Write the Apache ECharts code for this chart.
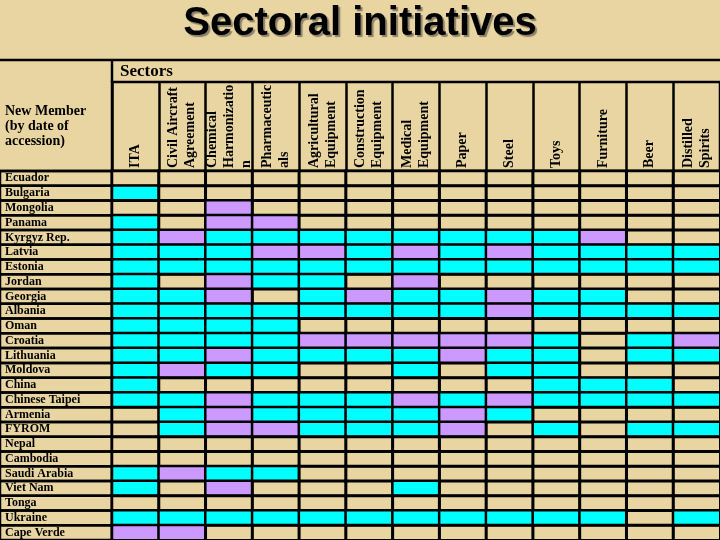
<!DOCTYPE html>
<html>
<head>
<meta charset="utf-8">
<script src="https://cdn.jsdelivr.net/npm/echarts@6/dist/echarts.min.js"></script>
<style>html,body{margin:0;padding:0;background:#e8d5a2;}#chart{width:720px;height:540px;}</style>
</head>
<body>
<div id="chart"></div>
<script>
// Sector column headers (left to right)
const sectors = ['ITA', 'Civil Aircraft\nAgreement', 'Chemical\nHarmonizatio\nn', 'Pharmaceutic\nals',
  'Agricultural\nEquipment', 'Construction\nEquipment', 'Medical\nEquipment', 'Paper', 'Steel',
  'Toys', 'Furniture', 'Beer', 'Distilled\nSpirits'];

// New members by date of accession (top to bottom)
const members = ['Ecuador', 'Bulgaria', 'Mongolia', 'Panama', 'Kyrgyz Rep.', 'Latvia', 'Estonia',
  'Jordan', 'Georgia', 'Albania', 'Oman', 'Croatia', 'Lithuania', 'Moldova', 'China',
  'Chinese Taipei', 'Armenia', 'FYROM', 'Nepal', 'Cambodia', 'Saudi Arabia', 'Viet Nam',
  'Tonga', 'Ukraine', 'Cape Verde'];

// Participation per sector, one value per member: 0 = none, 1 = cyan, 2 = purple
const ita           = [0,1,0,1,1,1,1,1,1,1,1,1,1,1,1,1,0,0,0,0,1,1,0,1,2];
const civilAircraft = [0,0,0,0,2,1,1,0,1,1,1,1,1,2,0,1,1,1,0,0,2,0,0,1,2];
const chemical      = [0,0,2,2,1,1,1,2,2,1,1,1,2,1,0,2,2,2,0,0,1,2,0,1,0];
const pharma        = [0,0,0,2,1,2,1,1,0,1,1,1,1,1,0,1,1,2,0,0,1,0,0,1,0];
const agricultural  = [0,0,0,0,1,2,1,1,1,1,0,2,1,0,0,1,1,1,0,0,0,0,0,1,0];
const construction  = [0,0,0,0,1,1,1,0,2,1,0,2,1,0,0,1,1,1,0,0,0,0,0,1,0];
const medical       = [0,0,0,0,1,2,1,2,1,1,0,2,1,1,0,2,1,1,0,0,0,1,0,1,0];
const paper         = [0,0,0,0,1,1,1,0,1,1,0,2,2,0,0,1,2,2,0,0,0,0,0,1,0];
const steel         = [0,0,0,0,1,2,1,0,2,2,0,2,1,1,0,2,1,0,0,0,0,0,0,1,0];
const toys          = [0,0,0,0,1,1,1,0,1,1,0,1,1,1,1,1,0,1,0,0,0,0,0,1,0];
const furniture     = [0,0,0,0,2,1,1,0,1,1,0,0,0,0,1,1,0,0,0,0,0,0,0,1,0];
const beer          = [0,0,0,0,0,1,1,0,0,1,0,1,1,0,1,1,0,1,0,0,0,0,0,0,0];
const spirits       = [0,0,0,0,0,1,1,0,0,1,0,2,1,0,0,1,0,1,0,0,0,0,0,1,0];

const columns = [ita, civilAircraft, chemical, pharma, agricultural, construction, medical,
  paper, steel, toys, furniture, beer, spirits];

const cells = [];
columns.forEach((col, j) => col.forEach((v, i) => cells.push([j, i, v])));

const serif = 'Liberation Serif';
const chart = echarts.init(document.getElementById('chart'), null, {renderer: 'canvas'});
chart.setOption({
  backgroundColor: '#e8d5a2',
  animation: false,
  title: [
    {text: 'Sectoral initiatives', left: 'center', top: 4, padding: 0,
      textStyle: {fontFamily: 'Liberation Sans', fontWeight: 'bold', fontSize: 40, color: '#000',
        lineHeight: 40, textShadowColor: '#8a806a', textShadowOffsetX: 2, textShadowOffsetY: 2, textShadowBlur: 1}},
    {text: 'Sectors', left: 120, top: 63, padding: 0,
      textStyle: {fontFamily: serif, fontWeight: 'bold', fontSize: 17, lineHeight: 17, color: '#000'}},
    {text: 'New Member\n(by date of\naccession)', left: 5, top: 104, padding: 0,
      textStyle: {fontFamily: serif, fontWeight: 'bold', fontSize: 14, lineHeight: 15, color: '#000'}}
  ],
  grid: [
    {left: 112, right: 0, top: 171, height: 373},
    {left: 112, right: 0, top: 82, height: 89, show: true, borderColor: '#000', borderWidth: 2.5, backgroundColor: 'transparent'}
  ],
  xAxis: [
    {gridIndex: 0, type: 'category', data: sectors, position: 'top',
      axisLine: {show: false}, axisTick: {show: false}, splitLine: {show: false},
      axisLabel: {interval: 0, rotate: -90, margin: 3, fontFamily: serif, fontWeight: 'bold',
        fontSize: 14, lineHeight: 17, color: '#000'}},
    {gridIndex: 1, type: 'category', data: sectors,
      axisLine: {show: false}, axisTick: {show: false}, axisLabel: {show: false},
      splitLine: {show: true, interval: 0, lineStyle: {color: '#000', width: 2.5}}}
  ],
  yAxis: [
    {gridIndex: 0, type: 'category', data: members, inverse: true,
      axisLine: {show: false}, axisTick: {show: false},
      axisLabel: {interval: 0, align: 'left', margin: 107, fontFamily: serif, fontWeight: 'bold',
        fontSize: 12, color: '#000'}},
    {gridIndex: 1, type: 'value', show: false}
  ],
  visualMap: {
    type: 'piecewise', show: false, seriesIndex: 0, dimension: 2,
    pieces: [
      {value: 0, color: 'rgba(0,0,0,0)'},
      {value: 1, color: '#00ffff'},
      {value: 2, color: '#cc99ff'}
    ]
  },
  graphic: [
    {type: 'line', shape: {x1: 0, y1: 60, x2: 720, y2: 60}, style: {stroke: '#000', lineWidth: 2.5}},
    {type: 'line', shape: {x1: 112, y1: 60, x2: 112, y2: 82}, style: {stroke: '#000', lineWidth: 2.5}},
    {type: 'line', shape: {x1: 0, y1: 171, x2: 112, y2: 171}, style: {stroke: '#000', lineWidth: 2.5}}
  ],
  series: [
    {type: 'heatmap', xAxisIndex: 0, yAxisIndex: 0, data: cells, silent: true,
      itemStyle: {borderColor: '#000', borderWidth: 2.5}},
    {type: 'custom', xAxisIndex: 0, yAxisIndex: 0, silent: true,
      data: members.map((m, i) => [0, i]),
      renderItem: function (params, api) {
        const c = api.coord([api.value(0), api.value(1)]);
        const s = api.size([1, 1]);
        const left = params.coordSys.x;
        return {type: 'rect',
          shape: {x: 0, y: c[1] - s[1] / 2, width: left, height: s[1]},
          style: {fill: 'none', stroke: '#000', lineWidth: 2.5}};
      }}
  ]
});
</script>
</body>
</html>
